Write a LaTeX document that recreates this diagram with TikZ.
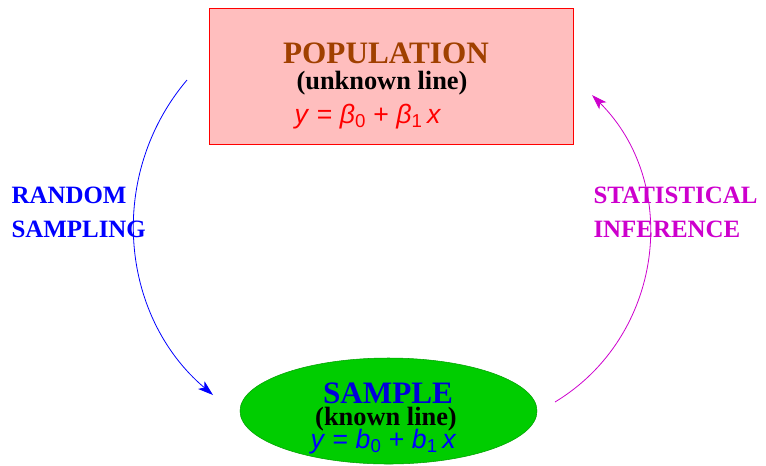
\documentclass[tikz,border=0pt]{standalone}
\usepackage{fontspec}
\setmainfont{Liberation Serif}
\newfontfamily\eqfont{Liberation Sans}
\usetikzlibrary{shapes.geometric,arrows.meta}

\tikzset{every picture/.style={line width=0.75pt}}
\tikzset{
  popbox/.style={draw={rgb, 255:red, 255; green, 0; blue, 0 }, fill={rgb, 255:red, 255; green, 190; blue, 190 }, line width=0.75, minimum width=273pt, minimum height=102pt, inner sep=0pt},
  samplebox/.style={ellipse, draw={rgb, 255:red, 0; green, 160; blue, 0 }, fill={rgb, 255:red, 0; green, 205; blue, 0 }, line width=0.4, minimum width=222.75pt, minimum height=79.5pt, inner sep=0pt},
  headtext/.style={anchor=base, inner sep=0.75pt, font=\fontsize{23.4}{28}\selectfont\bfseries},
  subtext/.style={anchor=base, inner sep=0.75pt, font=\fontsize{19.8}{24}\selectfont\bfseries},
  eqtext/.style={anchor=base, inner sep=0.75pt, font=\fontsize{20}{24}\selectfont\eqfont},
  sidetext/.style={anchor=base west, align=left, inner sep=0.75pt, font=\fontsize{18.7}{25.5}\selectfont\bfseries},
  connector/.style={line width=0.6, -{Stealth[length=11.5pt, width=7.5pt, inset=3pt]}},
}

\begin{document}
\begin{tikzpicture}[x=0.75pt,y=0.75pt,yscale=-1,xscale=1]
\useasboundingbox (0,0) rectangle (766,465);

%Shape: Rectangle [id:pop]
\node [popbox] (pop) at (391,76) {};
%Shape: Ellipse [id:sample]
\node [samplebox] (sample) at (388.5,411) {};

% Text Node
\node [headtext, color={rgb, 255:red, 160; green, 64; blue, 0 }] (poptitle) at (386,63) {POPULATION};
% Text Node
\node [subtext] (popnote) at (382,89) {(unknown line)};
% Text Node
\node [eqtext, color={rgb, 255:red, 255; green, 0; blue, 0 }] (popeq) at (368,123) {\textit{y} = \textit{β}\textsubscript{0} + \textit{β}\textsubscript{1}\,\textit{x}};

% Text Node
\node [headtext, color={rgb, 255:red, 0; green, 0; blue, 220 }] (sampletitle) at (388,403) {SAMPLE};
% Text Node
\node [subtext] (samplenote) at (386,425) {(known line)};
% Text Node
\node [eqtext, color={rgb, 255:red, 0; green, 0; blue, 255 }] (sampleeq) at (383.5,448) {\textit{y} = \textit{b}\textsubscript{0} + \textit{b}\textsubscript{1}\,\textit{x}};

% Text Node
\node [sidetext, color={rgb, 255:red, 0; green, 0; blue, 255 }] (rslabel) at (10,237) {RANDOM\\SAMPLING};
% Text Node
\node [sidetext, color={rgb, 255:red, 205; green, 0; blue, 205 }] (silabel) at (592,237) {STATISTICAL\\INFERENCE};

%Curve Lines [id:rs]
\coordinate (rsstart) at (187,80);
\coordinate (rsend) at (213,395);
\draw [connector, color={rgb, 255:red, 0; green, 0; blue, 255 }] (rsstart) to [bend left=45] (rsend);
%Curve Lines [id:si]
\coordinate (sistart) at (555,402);
\coordinate (siend) at (592,95);
\draw [connector, color={rgb, 255:red, 205; green, 0; blue, 205 }] (sistart) to [bend left=52, looseness=1.05] (siend);

\end{tikzpicture}
\end{document}
